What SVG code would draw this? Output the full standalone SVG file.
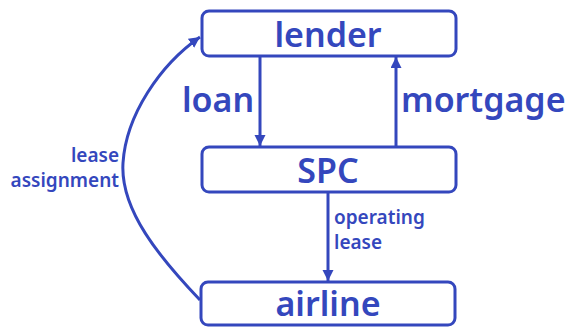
<svg xmlns="http://www.w3.org/2000/svg" width="570" height="331" viewBox="0 0 570 331">
<defs>
<marker id="ah" markerWidth="12" markerHeight="12" refX="11" refY="5.5" orient="auto" markerUnits="userSpaceOnUse">
<path d="M0,0 L11,5.5 L0,11 z" fill="#3447bd"/>
</marker>
<style>
.box{fill:#fff;stroke:#3447bd;stroke-width:3}
.big{font-family:"Noto Sans",sans-serif;font-size:34px;font-weight:600;fill:#3447bd}
.small{font-family:"Noto Sans",sans-serif;font-size:19px;font-weight:600;fill:#3447bd}
.edge{fill:none;stroke:#3447bd;stroke-width:3}
</style>
</defs>
<rect width="570" height="331" fill="#fff"/>
<g id="connectors">
<line class="edge" x1="260" y1="57" x2="260" y2="146" marker-end="url(#ah)"/>
<line class="edge" x1="396" y1="146" x2="396" y2="57" marker-end="url(#ah)"/>
<line class="edge" x1="328" y1="192" x2="328" y2="281" marker-end="url(#ah)"/>
<path class="edge" d="M200,300 C160,258 120,210 123,163 C126,115 160,65 200,37" marker-end="url(#ah)"/>
<text class="big" x="182" y="112">loan</text>
<text class="big" x="401" y="112">mortgage</text>
<text class="small" x="334" y="224">operating</text>
<text class="small" x="334" y="249">lease</text>
<text class="small" x="119" y="162" text-anchor="end">lease</text>
<text class="small" x="119" y="187" text-anchor="end">assignment</text>
</g>
<g id="lender">
<rect class="box" x="202" y="11" width="254" height="45" rx="7"/>
<text class="big" x="328" y="47" text-anchor="middle">lender</text>
</g>
<g id="spc">
<rect class="box" x="202" y="147" width="254" height="45" rx="7"/>
<text class="big" x="328" y="183" text-anchor="middle">SPC</text>
</g>
<g id="airline">
<rect class="box" x="201" y="282" width="254" height="43" rx="7"/>
<text class="big" x="328" y="316" text-anchor="middle">airline</text>
</g>
</svg>
